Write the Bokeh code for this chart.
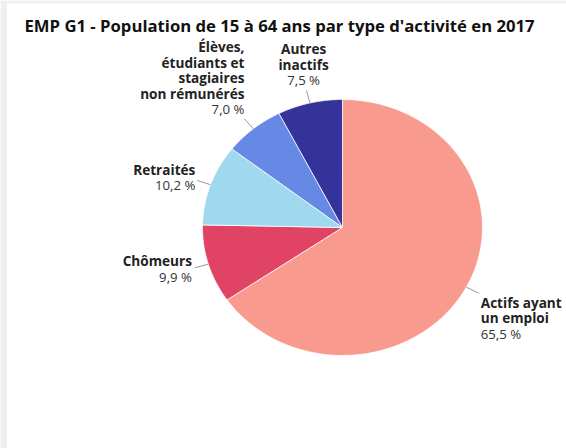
import numpy as np
from bokeh.plotting import figure
from bokeh.models import Range1d, ColumnDataSource
from bokeh.core.properties import value
from bokeh.embed import file_html
from bokeh.resources import INLINE

# ---- data ----
title_text = "EMP G1 - Population de 15 à 64 ans par type d'activité en 2017"
categories = ["Actifs ayant un emploi", "Chômeurs", "Retraités",
              "Élèves, étudiants et stagiaires non rémunérés", "Autres inactifs"]
label_lines = [["Actifs ayant", "un emploi"], ["Chômeurs"], ["Retraités"],
               ["Élèves,", "étudiants et", "stagiaires", "non rémunérés"],
               ["Autres", "inactifs"]]
shares = [65.5, 9.9, 10.2, 7.0, 7.5]
share_labels = ["65,5 %", "9,9 %", "10,2 %", "7,0 %", "7,5 %"]
colors = ["#F99A8E", "#E04363", "#A0D8EE", "#6689E6", "#343399"]

# ---- layout (styles) ----
W, H = 566, 448
CX, CY = 342, 227      # pie centre on canvas (px)
RX, RY = 140, 128      # pie radii (px)
FONT = "Open Sans"
# first-line offset (px) from leader end, alignment
label_style = [(2, 9, "left"), (-3, -7, "right"), (-2, -11, "right"),
               (0, -72, "right"), (-3, -42, "center")]
LINE_H = 15.5
PCT_H = 16

def dx(px):
    return px / RX

def dy(py):
    return -py / RY

p = figure(width=W, height=H, output_backend="svg", toolbar_location=None,
           x_range=Range1d(-CX / RX, (W - CX) / RX),
           y_range=Range1d(-(H - CY) / RY, CY / RY),
           min_border=0, outline_line_color=None)
p.axis.visible = False
p.grid.visible = False
p.background_fill_color = "white"
p.border_fill_color = "white"

# card edge (light grey strips top / left)
p.quad(left=[dx(-CX)], right=[dx(566 - CX)], top=[dy(-CY)], bottom=[dy(3 - CY)],
       fill_color="#EFEFEF", line_color=None)
p.quad(left=[dx(-CX)], right=[dx(5 - CX)], top=[dy(-CY)], bottom=[dy(448 - CY)],
       fill_color="#EFEFEF", line_color=None)
p.segment(x0=[dx(5.5 - CX)], y0=[dy(3 - CY)], x1=[dx(5.5 - CX)], y1=[dy(448 - CY)],
          line_color="#E2E2E2", line_width=1)

total = sum(shares)
fr = np.cumsum([0] + shares) / total
xs, ys, mids = [], [], []
for i in range(len(shares)):
    th = np.linspace(fr[i], fr[i + 1], 120) * 2 * np.pi
    xs.append([0.0] + list(np.sin(th)))
    ys.append([0.0] + list(np.cos(th)))
    mids.append((fr[i] + fr[i + 1]) * np.pi)

p.patches(xs="xs", ys="ys", fill_color="color", line_color="white", line_width=0.8,
          source=ColumnDataSource(dict(xs=xs, ys=ys, color=colors, cat=categories)))

# leader lines
lx0 = [np.sin(m) * 1.0 for m in mids]
ly0 = [np.cos(m) * 1.0 for m in mids]
lx1 = [np.sin(m) * 1.1 for m in mids]
ly1 = [np.cos(m) * 1.1 for m in mids]
p.segment(x0=lx0, y0=ly0, x1=lx1, y1=ly1, line_color="#999999", line_width=1)

# labels
bx, by, bt, ba = [], [], [], []
px_, py_, pt, pa = [], [], [], []
for i in range(len(shares)):
    ox, oy, al = label_style[i]
    x = lx1[i] + dx(ox)
    y0 = ly1[i] + dy(oy)
    for k, line in enumerate(label_lines[i]):
        bx.append(x); by.append(y0 + dy(k * LINE_H)); bt.append(line); ba.append(al)
    n = len(label_lines[i])
    px_.append(x); py_.append(y0 + dy((n - 1) * LINE_H + PCT_H)); pt.append(share_labels[i]); pa.append(al)

p.text(x="x", y="y", text="t", text_align="a", text_baseline="middle",
       text_font=value(FONT), text_font_style="bold", text_font_size="13.6px",
       text_color="#222222", source=ColumnDataSource(dict(x=bx, y=by, t=bt, a=ba)))
p.text(x="x", y="y", text="t", text_align="a", text_baseline="middle",
       text_font=value(FONT), text_font_size="13.2px",
       text_color="#333333", source=ColumnDataSource(dict(x=px_, y=py_, t=pt, a=pa)))

# title
p.text(x=[dx(24 - CX)], y=[dy(25 - CY)], text=[title_text], text_align="left",
       text_baseline="middle", text_font=value(FONT), text_font_style="bold",
       text_font_size="16.7px", text_color="#111111")

open("out.html", "w").write(file_html(p, INLINE))
